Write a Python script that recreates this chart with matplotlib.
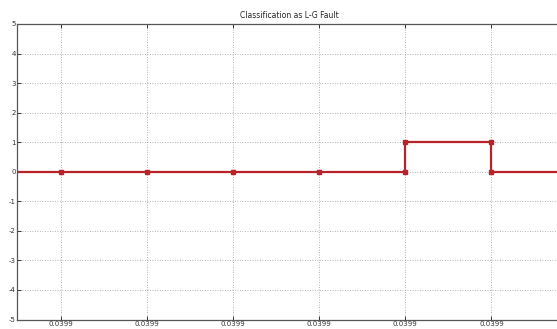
import matplotlib
matplotlib.use("Agg")
import matplotlib.pyplot as plt

plt.rcParams["axes.unicode_minus"] = False

# Data
x_pts = [0.49, 1, 2, 3, 4, 5, 5, 6, 6, 7]
y_pts = [0, 0, 0, 0, 0, 0, 1, 1, 0, 0]
marker_x = [1, 2, 3, 4, 5, 5, 6, 6]
marker_y = [0, 0, 0, 0, 0, 1, 1, 0]
xtick_pos = [1, 2, 3, 4, 5, 6]
xtick_labels = ["0.0399"] * 6
yticks = [-5, -4, -3, -2, -1, 0, 1, 2, 3, 4, 5]
title = "Classification as L-G Fault"

W, H = 557, 329
fig = plt.figure(figsize=(W / 100, H / 100), dpi=100)
fig.patch.set_facecolor("white")
left, right, top, bottom = 17, 562, 24, 319.5
ax = fig.add_axes([left / W, 1 - bottom / H, (right - left) / W, (bottom - top) / H])

ax.plot(x_pts, y_pts, color="#b8232a", lw=1.6, solid_joinstyle="miter")
ax.plot(marker_x, marker_y, ls="none", marker="s", ms=2.6, color="#b8232a")

ax.set_xlim(0.49, 6.82)
ax.set_ylim(-5, 5)
ax.set_xticks(xtick_pos)
ax.set_xticklabels(xtick_labels)
ax.set_yticks(yticks)
ax.grid(True, ls=(0, (1, 2)), color="#999999", lw=0.6)
ax.tick_params(direction="in", length=3, width=0.7, labelsize=5, colors="#333333",
               top=True, right=True, pad=1)
for s in ax.spines.values():
    s.set_color("#555555")
    s.set_linewidth(0.9)
ax.set_title(title, fontsize=5.5, pad=4, color="#222222")

fig.savefig("out.png", dpi=100)
